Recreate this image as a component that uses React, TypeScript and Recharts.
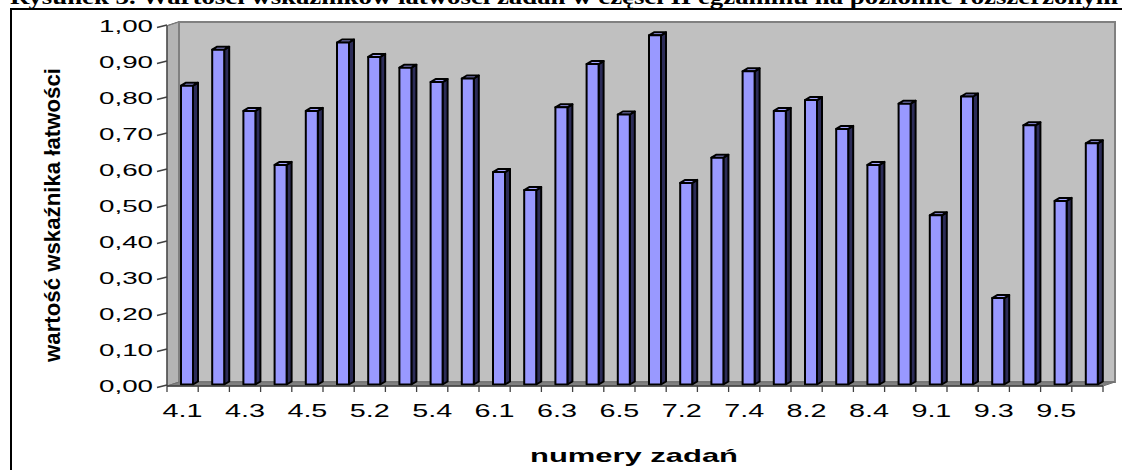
import React from "react";
import {
  BarChart,
  Bar,
  XAxis,
  YAxis,
  CartesianGrid,
  ReferenceArea,
} from "recharts";

// numery zadań i wartości wskaźnika łatwości
const tasks = [
  "4.1", "4.2", "4.3", "4.4", "4.5", "5.1", "5.2", "5.3", "5.4", "5.5",
  "6.1", "6.2", "6.3", "6.4", "6.5", "7.1", "7.2", "7.3", "7.4", "8.1",
  "8.2", "8.3", "8.4", "8.5", "9.1", "9.2", "9.3", "9.4", "9.5", "9.6",
];
const easiness = [
  0.83, 0.93, 0.76, 0.61, 0.76, 0.95, 0.91, 0.88, 0.84, 0.85,
  0.59, 0.54, 0.77, 0.89, 0.75, 0.97, 0.56, 0.63, 0.87, 0.76,
  0.79, 0.71, 0.61, 0.78, 0.47, 0.8, 0.24, 0.72, 0.51, 0.67,
];
const yTicks = [0, 0.1, 0.2, 0.3, 0.4, 0.5, 0.6, 0.7, 0.8, 0.9, 1];

const data = tasks.map((t, i) => ({ task: t, value: easiness[i] }));

// 3D depth of the Excel-style walls
const DX = 12;
const DY = -4;
const FONT = "'Liberation Sans', Arial, sans-serif";

const Walls = (p: any) => {
  const { x, y, width: w, height: h } = p;
  return (
    <g>
      <polygon
        points={`${x},${y} ${x + DX},${y + DY} ${x + DX},${y + h + DY} ${x},${y + h}`}
        fill="#b4b4b4"
        stroke="#808080"
      />
      <rect x={x + DX} y={y + DY} width={w} height={h} fill="#c0c0c0" stroke="#808080" strokeWidth={2} />
      <polygon
        points={`${x},${y + h} ${x + DX},${y + h + DY} ${x + w + DX},${y + h + DY} ${x + w},${y + h}`}
        fill="#808080"
        stroke="#707070"
      />
    </g>
  );
};

const gridLine = (p: any) => {
  const { x1, y1, x2, key } = p;
  return (
    <g key={key} stroke="#484848" strokeWidth={1.6}>
      <line x1={x1} y1={y1} x2={x1 + DX} y2={y1 + DY} />
      <line x1={x1 + DX} y1={y1 + DY} x2={x2 + DX} y2={y1 + DY} />
    </g>
  );
};

const Bar3D = (p: any) => {
  const { x, y, width: w, height: h } = p;
  const fx = x + 4;
  const fy = y - 1.5;
  const d = 5;
  const u = -3;
  return (
    <g stroke="#000" strokeWidth={2} strokeLinejoin="round">
      <polygon
        points={`${fx + w},${fy} ${fx + w + d},${fy + u} ${fx + w + d},${fy + h + u} ${fx + w},${fy + h}`}
        fill="#2c2c58"
      />
      <polygon
        points={`${fx},${fy} ${fx + d},${fy + u} ${fx + w + d},${fy + u} ${fx + w},${fy}`}
        fill="#a4a4ff"
      />
      <rect x={fx} y={fy} width={w} height={h} fill="#9999ff" />
    </g>
  );
};

const XTick = (p: any) => {
  const { x, y, payload, index } = p;
  const half = payload?.offset || 15.6;
  return (
    <g>
      <line x1={x - half} y1={y} x2={x - half} y2={y + 6} stroke="#404040" strokeWidth={1.3} />
      {index === tasks.length - 1 && (
        <line x1={x + half} y1={y} x2={x + half} y2={y + 6} stroke="#404040" strokeWidth={1.3} />
      )}
      {index % 2 === 0 && (
        <text
          x={x}
          y={y + 31}
          textAnchor="middle"
          fontFamily={FONT}
          fontSize={19}
          fill="#000"
          textLength={40}
          lengthAdjust="spacingAndGlyphs"
        >
          {payload.value}
        </text>
      )}
    </g>
  );
};

const YTick = (p: any) => {
  const { x, y, payload } = p;
  return (
    <g>
      <line x1={x - 10} y1={y + 1.5} x2={x} y2={y - 1} stroke="#404040" strokeWidth={1.3} />
      <text
        x={x - 14}
        y={y + 6}
        textAnchor="end"
        fontFamily={FONT}
        fontSize={17}
        fill="#000"
        textLength={54}
        lengthAdjust="spacingAndGlyphs"
      >
        {payload.value.toFixed(2).replace(".", ",")}
      </text>
    </g>
  );
};

export default function App() {
  return (
    <div
      style={{
        position: "absolute",
        left: 0,
        top: 0,
        width: 1122,
        height: 470,
        background: "#fff",
        overflow: "hidden",
      }}
    >
      <svg width={1122} height={20} style={{ position: "absolute", left: 0, top: 0 }}>
        <text
          x={10}
          y={4}
          fontFamily="'Liberation Serif', 'Times New Roman', serif"
          fontWeight="bold"
          fontSize={21}
          textLength={1108}
          lengthAdjust="spacingAndGlyphs"
        >
          Rysunek 3. Wartości wskaźników łatwości zadań w części II egzaminu na poziomie rozszerzonym
        </text>
      </svg>
      <div
        style={{
          position: "absolute",
          left: 10,
          top: 8,
          width: 1200,
          height: 600,
          border: "2px solid #000",
        }}
      />
      <div style={{ position: "absolute", left: 0, top: 0 }}>
        <BarChart
          width={1122}
          height={470}
          data={data}
          margin={{ top: 26, right: 19, bottom: 44, left: 97 }}
          barSize={12}
        >
          <ReferenceArea y1={0} y2={1} shape={Walls} ifOverflow="visible" />
          <CartesianGrid vertical={false} horizontal={gridLine} />
          <XAxis
            dataKey="task"
            interval={0}
            height={40}
            tickSize={0}
            tickMargin={0}
            tickLine={false}
            axisLine={{ stroke: "#404040", strokeWidth: 1.3 }}
            tick={XTick}
            label={() => (
              <text
                x={634}
                y={462}
                textAnchor="middle"
                fontFamily={FONT}
                fontWeight="bold"
                fontSize={19}
                textLength={208}
                lengthAdjust="spacingAndGlyphs"
              >
                numery zadań
              </text>
            )}
          />
          <YAxis
            domain={[0, 1]}
            ticks={yTicks}
            width={70}
            tickSize={0}
            tickMargin={0}
            tickLine={false}
            axisLine={{ stroke: "#404040", strokeWidth: 1.3 }}
            tick={YTick}
            label={() => (
              <text
                x={60}
                y={215}
                transform="rotate(-90 60 215)"
                textAnchor="middle"
                fontFamily={FONT}
                fontWeight="bold"
                fontSize={22}
                textLength={294}
                lengthAdjust="spacingAndGlyphs"
              >
                wartość wskaźnika łatwości
              </text>
            )}
          />
          <Bar dataKey="value" shape={Bar3D} isAnimationActive={false} />
        </BarChart>
      </div>
    </div>
  );
}
